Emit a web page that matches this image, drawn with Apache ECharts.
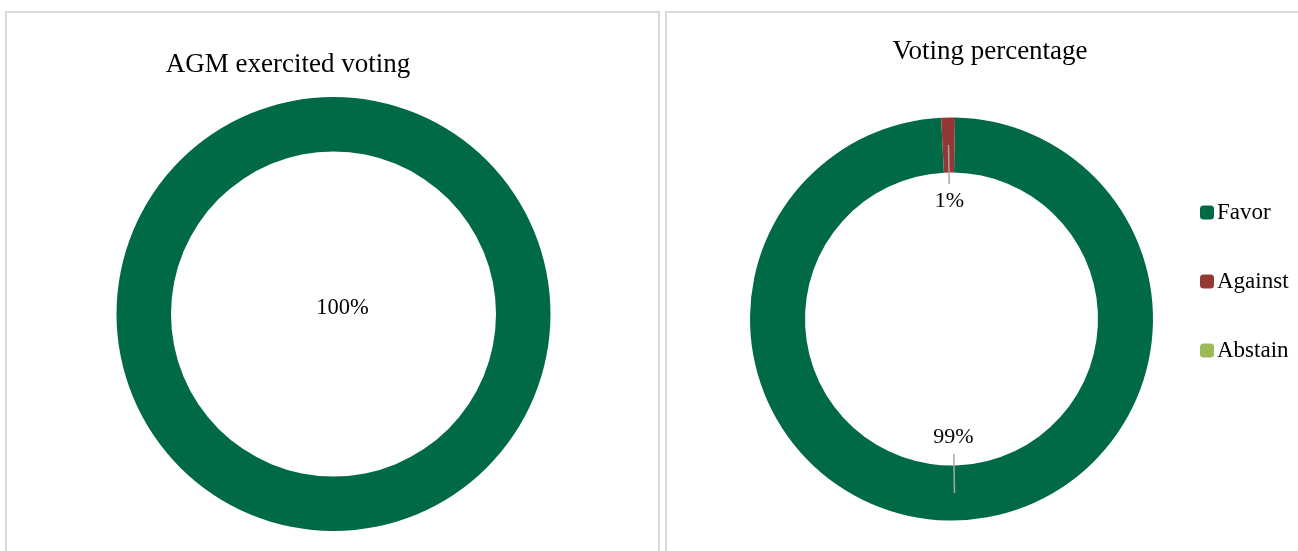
<!DOCTYPE html>
<html>
<head>
<meta charset="utf-8">
<script src="https://cdn.jsdelivr.net/npm/echarts@6/dist/echarts.min.js"></script>
<style>
  html, body { margin: 0; padding: 0; background: #fff; }
  #chart { width: 1298px; height: 551px; }
</style>
</head>
<body>
<div id="chart"></div>
<script>
  // left donut
  const exercisedNames = ['Exercised'];
  const exercisedValues = [100];
  // right donut
  const votingNames = ['Favor', 'Against', 'Abstain'];
  const votingValues = [98.9, 1.1, 0];
  const votingColors = ['#006a47', '#953735', '#9bbb59'];

  const font = 'Liberation Serif';
  const total = votingValues.reduce((a, b) => a + b, 0);

  // leader lines + labels for the right donut, placed in a polar system over the pie
  const leaderSeries = [];
  const labelPoints = [];
  let acc = 0;
  votingValues.forEach((v, i) => {
    const mid = acc + v / 2;
    acc += v;
    if (!v) return;
    leaderSeries.push({
      type: 'line',
      coordinateSystem: 'polar',
      polarIndex: 0,
      data: [[174, mid], [135, mid]],
      symbol: 'none',
      silent: true,
      z: 5,
      lineStyle: { color: '#a6a6a6', width: 1.5 }
    });
    labelPoints.push({ value: [118, mid], pct: Math.round(v / total * 100) + '%' });
  });

  const chart = echarts.init(document.getElementById('chart'));
  chart.setOption({
    animation: false,
    textStyle: { fontFamily: font },
    graphic: [
      { type: 'rect', shape: { x: 6, y: 12, width: 653, height: 600 },
        style: { fill: 'none', stroke: '#d9d9d9', lineWidth: 2 }, silent: true },
      { type: 'rect', shape: { x: 666, y: 12, width: 700, height: 600 },
        style: { fill: 'none', stroke: '#d9d9d9', lineWidth: 2 }, silent: true }
    ],
    title: [
      { text: 'AGM exercited voting', left: 283, top: 46, textAlign: 'center',
        textStyle: { fontFamily: font, fontSize: 27, fontWeight: 'normal', color: '#000' } },
      { text: 'Voting percentage', left: 985, top: 33, textAlign: 'center',
        textStyle: { fontFamily: font, fontSize: 27, fontWeight: 'normal', color: '#000' } }
    ],
    legend: {
      data: votingNames,
      orient: 'vertical',
      left: 1200,
      top: 201,
      padding: 0,
      itemGap: 46,
      itemWidth: 14,
      itemHeight: 14,
      icon: 'roundRect',
      selectedMode: false,
      textStyle: { fontFamily: font, fontSize: 23, color: '#000', padding: [0, 0, 0, -2] }
    },
    polar: [{ center: [951.5, 319], radius: 201.5 }],
    angleAxis: { polarIndex: 0, type: 'value', min: 0, max: total, startAngle: 89, clockwise: true, show: false },
    radiusAxis: { polarIndex: 0, type: 'value', min: 0, max: 201.5, show: false },
    series: [
      {
        type: 'pie',
        name: 'AGM exercited voting',
        center: [333.5, 314],
        radius: [162.5, 217],
        startAngle: 90,
        silent: true,
        itemStyle: { color: '#006a47', borderWidth: 0 },
        label: {
          show: true, position: 'center', formatter: '{d}%',
          fontFamily: font, fontSize: 22.5, color: '#000'
        },
        labelLayout: { dx: 9, dy: -6 },
        labelLine: { show: false },
        data: exercisedNames.map((n, i) => ({ name: n, value: exercisedValues[i] }))
      },
      {
        type: 'pie',
        name: 'Voting percentage',
        center: [951.5, 319],
        radius: [146.5, 201.5],
        startAngle: 89,
        clockwise: true,
        silent: true,
        label: { show: false },
        labelLine: { show: false },
        itemStyle: { borderWidth: 0 },
        data: votingNames.map((n, i) => ({
          name: n, value: votingValues[i], itemStyle: { color: votingColors[i] }
        }))
      },
      ...leaderSeries,
      {
        type: 'scatter',
        coordinateSystem: 'polar',
        polarIndex: 0,
        symbolSize: 0,
        silent: true,
        z: 6,
        itemStyle: { opacity: 1, color: 'rgba(0,0,0,0)' },
        label: {
          show: true, position: 'inside', opacity: 1,
          formatter: p => p.data.pct,
          fontFamily: font, fontSize: 22, color: '#000'
        },
        data: labelPoints
      }
    ]
  });
</script>
</body>
</html>
